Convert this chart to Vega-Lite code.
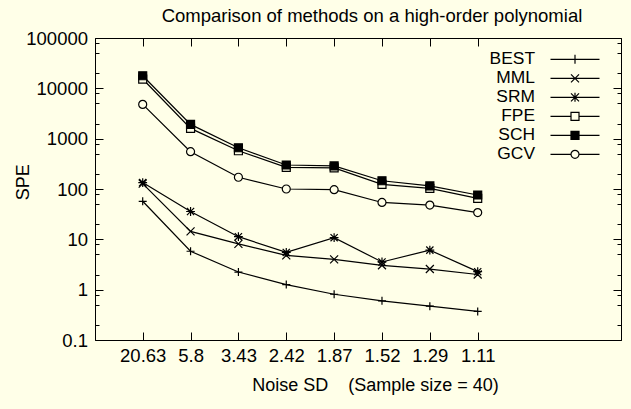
{
  "$schema": "https://vega.github.io/schema/vega-lite/v6.json",
  "width": 526,
  "height": 302,
  "autosize": "none",
  "padding": {"left": 95, "top": 38, "right": 10, "bottom": 69},
  "background": "#FFFFE8",
  "title": {
    "text": "Comparison of methods on a high-order polynomial",
    "font": "Liberation Sans",
    "fontSize": 18.5,
    "fontWeight": "normal",
    "color": "black",
    "anchor": "middle",
    "frame": "group",
    "dx": 14,
    "dy": 15,
    "baseline": "alphabetic",
    "offset": 4
  },
  "data": {
    "values": [
      {"method": "BEST", "sd": "20.63", "spe": 57},
      {"method": "BEST", "sd": "5.8", "spe": 5.8},
      {"method": "BEST", "sd": "3.43", "spe": 2.24},
      {"method": "BEST", "sd": "2.42", "spe": 1.26},
      {"method": "BEST", "sd": "1.87", "spe": 0.81},
      {"method": "BEST", "sd": "1.52", "spe": 0.6},
      {"method": "BEST", "sd": "1.29", "spe": 0.47},
      {"method": "BEST", "sd": "1.11", "spe": 0.37},
      {"method": "MML", "sd": "20.63", "spe": 128},
      {"method": "MML", "sd": "5.8", "spe": 14.4},
      {"method": "MML", "sd": "3.43", "spe": 8.1},
      {"method": "MML", "sd": "2.42", "spe": 4.8},
      {"method": "MML", "sd": "1.87", "spe": 4.0},
      {"method": "MML", "sd": "1.52", "spe": 3.05},
      {"method": "MML", "sd": "1.29", "spe": 2.57},
      {"method": "MML", "sd": "1.11", "spe": 2.0},
      {"method": "SRM", "sd": "20.63", "spe": 134},
      {"method": "SRM", "sd": "5.8", "spe": 35.7},
      {"method": "SRM", "sd": "3.43", "spe": 11.3},
      {"method": "SRM", "sd": "2.42", "spe": 5.5},
      {"method": "SRM", "sd": "1.87", "spe": 10.8},
      {"method": "SRM", "sd": "1.52", "spe": 3.55},
      {"method": "SRM", "sd": "1.29", "spe": 6.1},
      {"method": "SRM", "sd": "1.11", "spe": 2.28},
      {"method": "FPE", "sd": "20.63", "spe": 15300},
      {"method": "FPE", "sd": "5.8", "spe": 1600},
      {"method": "FPE", "sd": "3.43", "spe": 575},
      {"method": "FPE", "sd": "2.42", "spe": 270},
      {"method": "FPE", "sd": "1.87", "spe": 262},
      {"method": "FPE", "sd": "1.52", "spe": 124},
      {"method": "FPE", "sd": "1.29", "spe": 103},
      {"method": "FPE", "sd": "1.11", "spe": 65},
      {"method": "SCH", "sd": "20.63", "spe": 17800},
      {"method": "SCH", "sd": "5.8", "spe": 1920},
      {"method": "SCH", "sd": "3.43", "spe": 660},
      {"method": "SCH", "sd": "2.42", "spe": 300},
      {"method": "SCH", "sd": "1.87", "spe": 287},
      {"method": "SCH", "sd": "1.52", "spe": 146},
      {"method": "SCH", "sd": "1.29", "spe": 115},
      {"method": "SCH", "sd": "1.11", "spe": 76},
      {"method": "GCV", "sd": "20.63", "spe": 4800},
      {"method": "GCV", "sd": "5.8", "spe": 552},
      {"method": "GCV", "sd": "3.43", "spe": 171},
      {"method": "GCV", "sd": "2.42", "spe": 100},
      {"method": "GCV", "sd": "1.87", "spe": 97},
      {"method": "GCV", "sd": "1.52", "spe": 54},
      {"method": "GCV", "sd": "1.29", "spe": 48},
      {"method": "GCV", "sd": "1.11", "spe": 34}
    ]
  },
  "layer": [
    {
      "mark": {"type": "line", "color": "black", "strokeWidth": 1.2},
      "encoding": {
        "x": {
          "field": "sd", "type": "ordinal",
          "scale": {"type": "point", "domain": ["20.63", "5.8", "3.43", "2.42", "1.87", "1.52", "1.29", "1.11"], "padding": 0, "range": [47.7, 382.7]},
          "axis": {
            "orient": "bottom",
            "domain": false,
            "title": "Noise SD\u00a0\u00a0\u00a0 (Sample size = 40)",
            "titleX": 280, "titleY": 50.5, "titleAlign": "center", "titleBaseline": "alphabetic",
            "labelAngle": 0, "tickSize": -8, "labelPadding": 14, "labelFontSize": 18.5
          }
        },
        "y": {
          "field": "spe", "type": "quantitative",
          "scale": {"type": "log", "domain": [0.1, 100000]},
          "axis": {
            "orient": "left",
            "values": [0.1, 0.2, 0.5, 0.8, 1, 2, 5, 8, 10, 20, 50, 80, 100, 200, 500, 800, 1000, 2000, 5000, 8000, 10000, 20000, 50000, 80000, 100000],
            "format": "~g",
            "labelExpr": "abs(log(datum.value)/LN10 - round(log(datum.value)/LN10)) < 0.001 ? datum.label : ''",
            "tickSize": {"condition": {"test": "abs(log(datum.value)/LN10 - round(log(datum.value)/LN10)) < 0.001", "value": -8}, "value": -4},
            "labelPadding": 15.5, "labelFontSize": 18.5,
            "title": "SPE", "titleX": -72, "titleY": 143.7, "titleAngle": 270, "titleAlign": "center", "titleBaseline": "middle"
          }
        },
        "detail": {"field": "method", "type": "nominal"}
      }
    },
    {
      "mark": {"type": "point", "filled": true, "stroke": "black", "strokeWidth": 1.2, "size": 64, "opacity": 1},
      "encoding": {
        "x": {
          "field": "sd", "type": "ordinal",
          "scale": {"type": "point", "domain": ["20.63", "5.8", "3.43", "2.42", "1.87", "1.52", "1.29", "1.11"], "padding": 0, "range": [47.7, 382.7]},
          "axis": {"orient": "top", "domain": false, "labels": false, "tickSize": -8, "title": null}
        },
        "y": {
          "field": "spe", "type": "quantitative",
          "scale": {"type": "log", "domain": [0.1, 100000]},
          "axis": {
            "orient": "right", "labels": false, "title": null,
            "values": [0.1, 0.2, 0.5, 0.8, 1, 2, 5, 8, 10, 20, 50, 80, 100, 200, 500, 800, 1000, 2000, 5000, 8000, 10000, 20000, 50000, 80000, 100000],
            "tickSize": {"condition": {"test": "abs(log(datum.value)/LN10 - round(log(datum.value)/LN10)) < 0.001", "value": -8}, "value": -4}
          }
        },
        "shape": {
          "field": "method", "type": "nominal",
          "scale": {
            "domain": ["BEST", "MML", "SRM", "FPE", "SCH", "GCV"],
            "range": [
              "M-1,0H1M0,-1V1",
              "M-1,-1L1,1M-1,1L1,-1",
              "M-1.1,0H1.1M0,-1.1V1.1M-0.9,-0.9L0.9,0.9M-0.9,0.9L0.9,-0.9",
              "M-1,-1H1V1H-1Z",
              "M-1,-1H1V1H-1Z",
              "M-1,0A1,1,0,1,0,1,0A1,1,0,1,0,-1,0Z"
            ]
          },
          "legend": null
        },
        "fill": {
          "field": "method", "type": "nominal",
          "scale": {"domain": ["BEST", "MML", "SRM", "FPE", "SCH", "GCV"], "range": ["#FFFFE8", "#FFFFE8", "#FFFFE8", "#FFFFE8", "black", "#FFFFE8"]},
          "legend": null
        }
      }
    },
    {
      "mark": {"type": "point", "filled": true, "stroke": "black", "strokeWidth": 1.2, "size": 100, "opacity": 0},
      "encoding": {
        "x": {
          "field": "sd", "type": "ordinal",
          "scale": {"type": "point", "domain": ["20.63", "5.8", "3.43", "2.42", "1.87", "1.52", "1.29", "1.11"], "padding": 0, "range": [47.7, 382.7]},
          "axis": null
        },
        "y": {
          "field": "spe", "type": "quantitative",
          "scale": {"type": "log", "domain": [0.1, 100000]},
          "axis": null
        },
        "shape": {
          "field": "method", "type": "nominal",
          "scale": {
            "domain": ["BEST", "MML", "SRM", "FPE", "SCH", "GCV"],
            "range": [
              "M-4.9,0H4.9M0,-0.9V0.9",
              "M-4.9,0H4.9M-0.8,-0.8L0.8,0.8M-0.8,0.8L0.8,-0.8",
              "M-4.9,0H4.9M0,-0.9V0.9M-0.8,-0.8L0.8,0.8M-0.8,0.8L0.8,-0.8",
              "M-4.9,0H-0.8M0.8,0H4.9M-0.8,-0.8H0.8V0.8H-0.8Z",
              "M-4.9,0H4.9M-0.8,-0.8H0.8V0.8H-0.8Z",
              "M-4.9,0H-0.8M0.8,0H4.9M-0.8,0A0.8,0.8,0,1,0,0.8,0A0.8,0.8,0,1,0,-0.8,0Z"
            ]
          },
          "legend": {
            "title": null, "orient": "none", "legendX": 471.3, "legendY": 12.6,
            "symbolSize": 100, "symbolStrokeWidth": 1.2, "symbolStrokeColor": "black", "symbolOpacity": 1,
            "labelFontSize": 17.4, "labelFont": "Liberation Sans", "labelColor": "black", "labelAlign": "right",
            "labelOffset": -48.7, "rowPadding": 0, "padding": 0, "symbolOffset": 0, "labelLimit": 0,
            "encode": {"symbols": {"update": {"stroke": {"value": "black"}, "strokeWidth": {"value": 1.2}, "opacity": {"value": 1}, "strokeOpacity": {"value": 1}}}}
          }
        },
        "fill": {
          "field": "method", "type": "nominal",
          "scale": {"domain": ["BEST", "MML", "SRM", "FPE", "SCH", "GCV"], "range": ["#FFFFE8", "#FFFFE8", "#FFFFE8", "#FFFFE8", "black", "#FFFFE8"]},
          "legend": {
            "title": null, "orient": "none", "legendX": 471.3, "legendY": 12.6,
            "symbolSize": 100, "symbolStrokeWidth": 1.2, "symbolStrokeColor": "black", "symbolOpacity": 1,
            "labelFontSize": 17.4, "labelFont": "Liberation Sans", "labelColor": "black", "labelAlign": "right",
            "labelOffset": -48.7, "rowPadding": 0, "padding": 0, "symbolOffset": 0, "labelLimit": 0,
            "encode": {"symbols": {"update": {"stroke": {"value": "black"}, "strokeWidth": {"value": 1.2}, "opacity": {"value": 1}, "strokeOpacity": {"value": 1}}}}
          }
        }
      }
    }
  ],
  "resolve": {
    "scale": {"shape": "independent", "fill": "independent"},
    "axis": {"x": "independent", "y": "independent"}
  },
  "config": {
    "view": {"stroke": "black", "strokeWidth": 1},
    "axis": {
      "grid": false,
      "domainColor": "black", "domainWidth": 1,
      "tickColor": "black", "tickWidth": 1,
      "labelColor": "black", "labelFont": "Liberation Sans", "labelFontSize": 18,
      "titleColor": "black", "titleFont": "Liberation Sans", "titleFontSize": 18, "titleFontWeight": "normal"
    }
  }
}
